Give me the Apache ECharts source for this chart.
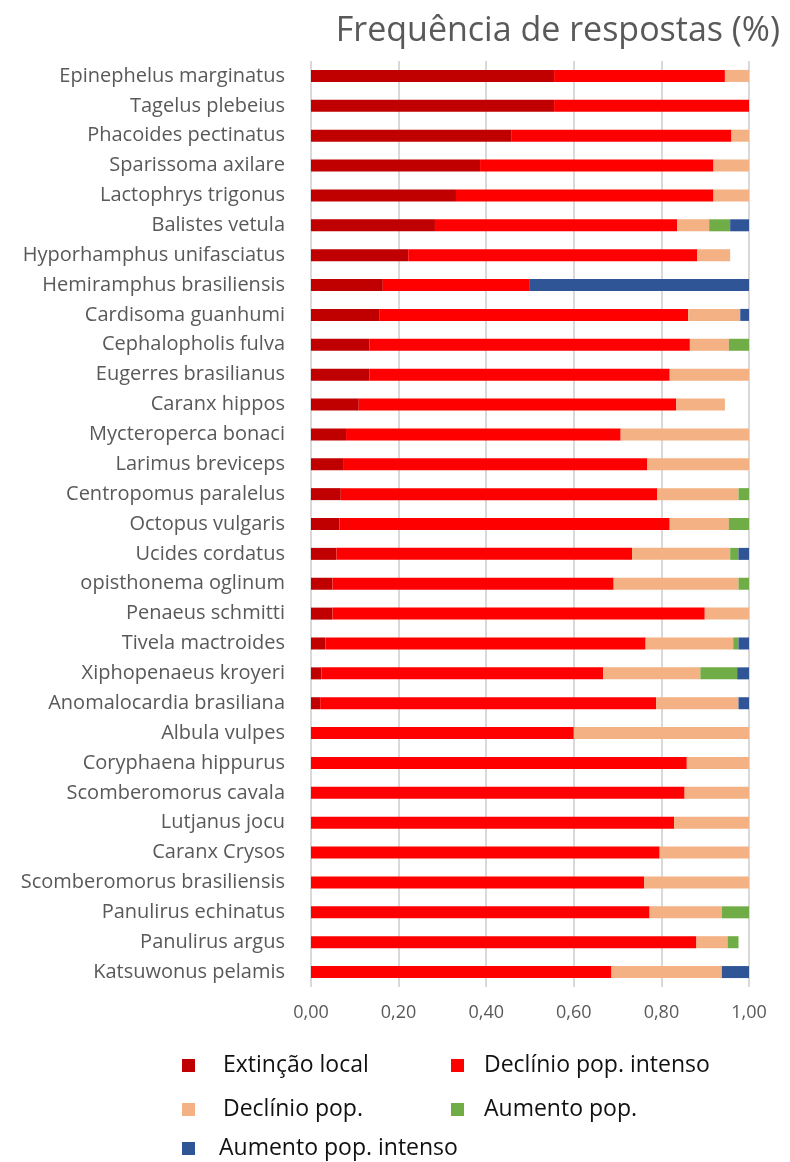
<!DOCTYPE html>
<html>
<head>
<meta charset="utf-8">
<script src="https://cdn.jsdelivr.net/npm/echarts@6/dist/echarts.min.js"></script>
<style>
  html, body { margin: 0; padding: 0; background: #fff; }
  #chart { width: 790px; height: 1162px; }
</style>
</head>
<body>
<div id="chart"></div>
<script>
// species, top to bottom as drawn
const species = [
  'Epinephelus marginatus', 'Tagelus plebeius', 'Phacoides pectinatus', 'Sparissoma axilare',
  'Lactophrys trigonus', 'Balistes vetula', 'Hyporhamphus unifasciatus', 'Hemiramphus brasiliensis',
  'Cardisoma guanhumi', 'Cephalopholis fulva', 'Eugerres brasilianus', 'Caranx hippos',
  'Mycteroperca bonaci', 'Larimus breviceps', 'Centropomus paralelus', 'Octopus vulgaris',
  'Ucides cordatus', 'opisthonema oglinum', 'Penaeus schmitti', 'Tivela mactroides',
  'Xiphopenaeus kroyeri', 'Anomalocardia brasiliana', 'Albula vulpes', 'Coryphaena hippurus',
  'Scomberomorus cavala', 'Lutjanus jocu', 'Caranx Crysos', 'Scomberomorus brasiliensis',
  'Panulirus echinatus', 'Panulirus argus', 'Katsuwonus pelamis'
]

const extincaoLocal = [0.555, 0.555, 0.457, 0.386, 0.331, 0.283, 0.222, 0.164,
  0.157, 0.133, 0.133, 0.109, 0.080, 0.075, 0.068, 0.065,
  0.058, 0.049, 0.049, 0.033, 0.024, 0.021, 0, 0,
  0, 0, 0, 0, 0, 0, 0]
const declinioIntenso = [0.390, 0.445, 0.503, 0.533, 0.588, 0.553, 0.660, 0.334,
  0.704, 0.732, 0.686, 0.725, 0.627, 0.693, 0.722, 0.754,
  0.675, 0.642, 0.850, 0.731, 0.643, 0.767, 0.600, 0.858,
  0.853, 0.829, 0.796, 0.761, 0.773, 0.880, 0.686]
const declinio = [0.055, 0, 0.040, 0.081, 0.081, 0.073, 0.075, 0,
  0.119, 0.089, 0.181, 0.111, 0.293, 0.232, 0.186, 0.135,
  0.224, 0.285, 0.101, 0.200, 0.222, 0.188, 0.400, 0.142,
  0.147, 0.171, 0.204, 0.239, 0.165, 0.071, 0.252]
const aumento = [0, 0, 0, 0, 0, 0.048, 0, 0,
  0, 0.046, 0, 0, 0, 0, 0.024, 0.046,
  0.019, 0.024, 0, 0.012, 0.084, 0, 0, 0,
  0, 0, 0, 0, 0.062, 0.025, 0]
const aumentoIntenso = [0, 0, 0, 0, 0, 0.043, 0, 0.502,
  0.020, 0, 0, 0, 0, 0, 0, 0,
  0.024, 0, 0, 0.024, 0.027, 0.024, 0, 0,
  0, 0, 0, 0, 0, 0, 0.062]

const seriesNames = ['Extinção local', 'Declínio pop. intenso', 'Declínio pop.', 'Aumento pop.', 'Aumento pop. intenso']
const seriesData = [extincaoLocal, declinioIntenso, declinio, aumento, aumentoIntenso]
const colors = ['#C00000', '#FF0000', '#F4B183', '#70AD47', '#2F5597']

const chart = echarts.init(document.getElementById('chart'))

// one legend per item so they sit like the original two-column block
const legendPos = [
  { left: 177, top: 1049, gap: 23 },
  { left: 446, top: 1049, gap: 15 },
  { left: 177, top: 1093, gap: 23 },
  { left: 446, top: 1093, gap: 15 },
  { left: 177, top: 1132, gap: 19 }
]
const legends = seriesNames.map((name, i) => ({
  data: [name],
  left: legendPos[i].left,
  top: legendPos[i].top,
  itemWidth: 13,
  itemHeight: 13,
  icon: 'rect',
  selectedMode: false,
  textStyle: {
    fontFamily: 'Open Sans',
    fontSize: 23,
    color: '#111',
    padding: [0, 0, 0, legendPos[i].gap]
  }
}))

chart.setOption({
  animation: false,
  backgroundColor: '#fff',
  color: colors,
  title: {
    text: 'Frequência de respostas (%)',
    right: 5,
    top: 9,
    textStyle: {
      fontFamily: 'Open Sans',
      fontWeight: 'normal',
      fontSize: 34,
      color: '#595959'
    }
  },
  legend: legends,
  grid: {
    left: 311,
    right: 41,
    top: 61,
    bottom: 175,
    containLabel: false
  },
  xAxis: {
    type: 'value',
    min: 0,
    max: 1,
    interval: 0.2,
    axisLine: { show: false },
    axisTick: { show: false },
    splitLine: { lineStyle: { color: '#D9D9D9', width: 2 } },
    axisLabel: {
      margin: 17,
      fontFamily: 'Open Sans',
      fontSize: 18,
      color: '#595959',
      formatter: v => v.toFixed(2).replace('.', ',')
    }
  },
  yAxis: {
    type: 'category',
    inverse: true,
    data: species,
    axisLine: { show: false },
    axisTick: { show: false },
    axisLabel: {
      margin: 26,
      fontFamily: 'Open Sans',
      fontSize: 20,
      color: '#595959'
    }
  },
  series: seriesNames.map((name, i) => ({
    name: name,
    type: 'bar',
    stack: 'total',
    barWidth: 12,
    data: seriesData[i],
    itemStyle: { color: colors[i] }
  }))
})
</script>
</body>
</html>
